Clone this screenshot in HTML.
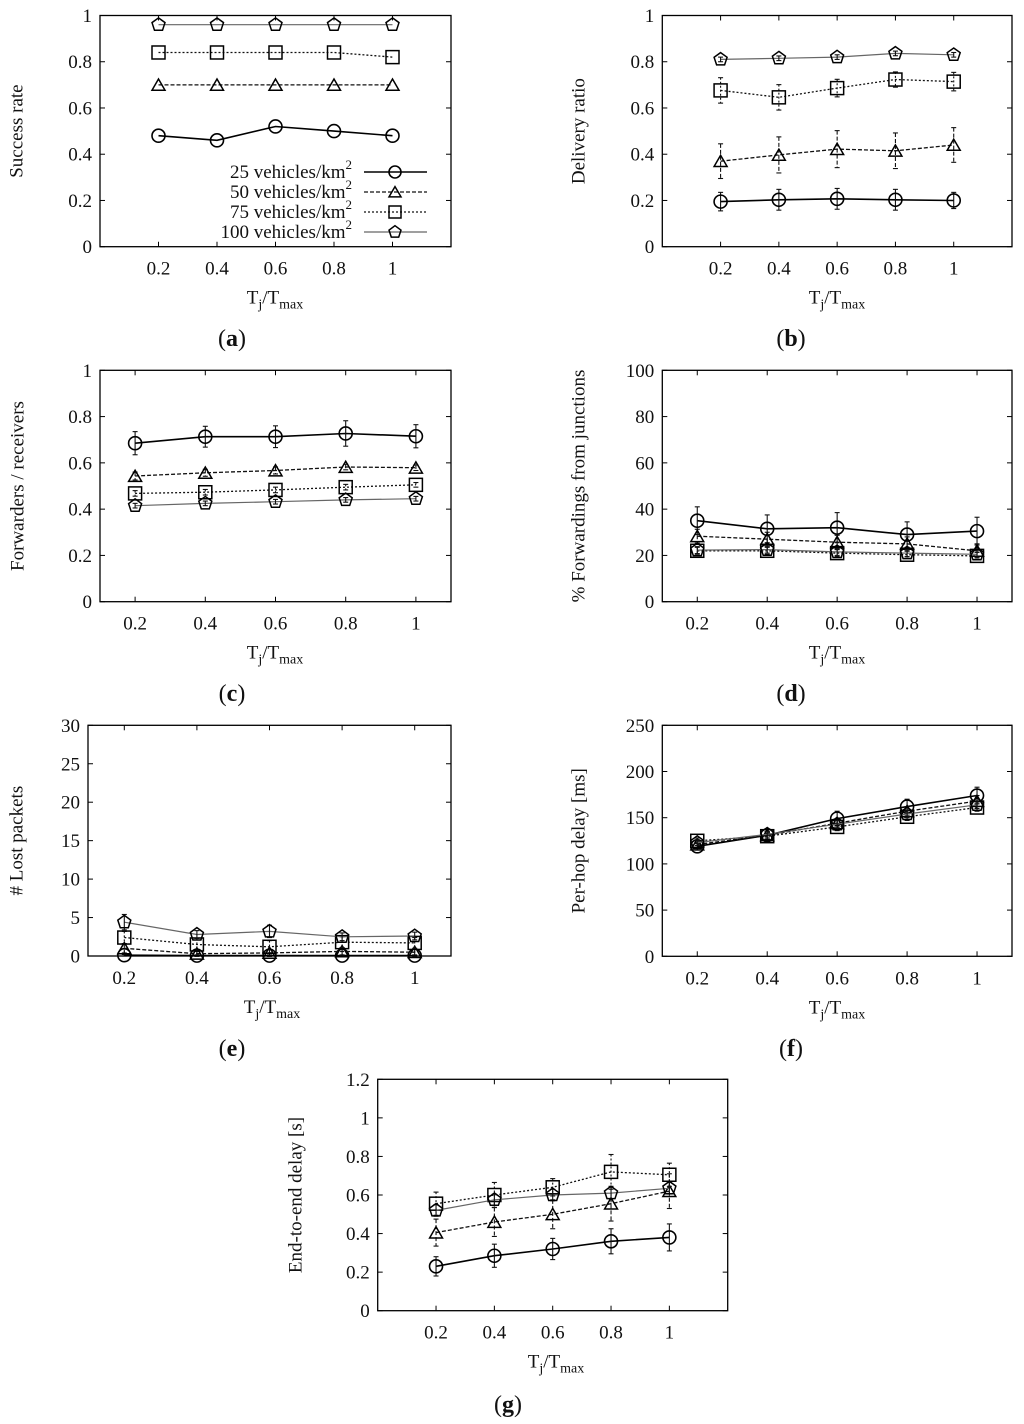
<!DOCTYPE html>
<html><head><meta charset="utf-8"><style>
html,body{margin:0;padding:0;background:#fff;}
svg{display:block;}
text{font-family:"Liberation Serif",serif;fill:#111;}
</style></head><body>
<svg id="fig" width="1024" height="1424" viewBox="0 0 1024 1424" xmlns="http://www.w3.org/2000/svg"></svg>
<script>
// x categories
const xCats = [0.2, 0.4, 0.6, 0.8, 1];
const xTickLabels = ["0.2","0.4","0.6","0.8","1"];
const seriesNames = ["25 vehicles/km","50 vehicles/km","75 vehicles/km","100 vehicles/km"];

// (a) success rate
const aC25 = [0.48,0.46,0.52,0.50,0.48];
const aC50 = [0.70,0.70,0.70,0.70,0.70];
const aC75 = [0.84,0.84,0.84,0.84,0.82];
const aC100 = [0.96,0.96,0.96,0.96,0.96];
// (b) delivery ratio
const bC25 = [0.195,0.203,0.207,0.203,0.200];
const bC50 = [0.37,0.397,0.422,0.415,0.44];
const bC75 = [0.676,0.646,0.686,0.723,0.714];
const bC100 = [0.810,0.815,0.820,0.836,0.830];
const bE25 = [0.04,0.045,0.045,0.045,0.035];
const bE50 = [0.075,0.078,0.08,0.077,0.075];
const bE75 = [0.055,0.055,0.038,0.033,0.04];
const bE100 = [0.01,0.01,0.01,0.01,0.01];
// (c) forwarders / receivers
const cC25 = [0.685,0.713,0.713,0.727,0.715];
const cC50 = [0.543,0.557,0.567,0.582,0.579];
const cC75 = [0.468,0.473,0.483,0.495,0.505];
const cC100 = [0.415,0.425,0.432,0.440,0.445];
const cE25 = [0.05,0.045,0.047,0.055,0.05];
const cE50 = [0.017,0.015,0.015,0.012,0.012];
const cE75 = [0.012,0.012,0.012,0.012,0.01];
const cE100 = [0.01,0.01,0.01,0.01,0.01];
// (d) % forwardings from junctions
const dC25 = [35,31.5,32,29,30.5];
const dC50 = [28.3,27,25.7,25,22];
const dC75 = [22,22,21,20.3,19.8];
const dC100 = [22.3,22.5,21.5,21,20.5];
const dE25 = [6,6,6.5,5.5,6];
const dE50 = [3,3,3,3,3];
const dE75 = [1.5,1.5,1.5,1.5,1.5];
const dE100 = [1.5,1.5,1.5,1.5,1.5];
// (e) # lost packets
const eC25 = [0.1,0.05,0.05,0.05,0.05];
const eC50 = [1.0,0.3,0.4,0.6,0.5];
const eC75 = [2.4,1.5,1.2,1.8,1.7];
const eC100 = [4.4,2.8,3.2,2.5,2.6];
const eE25 = [0.1,0.1,0.1,0.1,0.1];
const eE50 = [0.6,0.3,0.4,0.5,0.4];
const eE75 = [0.8,0.8,0.8,0.7,0.7];
const eE100 = [1.0,0.5,0.8,0.5,0.5];
// (f) per-hop delay
const fC25 = [119,131,149,162,174];
const fC50 = [121,131,144,157,168];
const fC75 = [125,130,140,151,161];
const fC100 = [123,132,143,154,164];
const fE25 = [4,4,8,8,9];
const fE50 = [4,4,5,5,6];
const fE75 = [3,3,4,4,4];
const fE100 = [3,3,4,4,4];
// (g) end-to-end delay
const gC25 = [0.23,0.285,0.32,0.36,0.38];
const gC50 = [0.405,0.46,0.50,0.555,0.62];
const gC75 = [0.555,0.60,0.64,0.72,0.705];
const gC100 = [0.52,0.575,0.60,0.61,0.635];
const gE25 = [0.05,0.06,0.055,0.065,0.07];
const gE50 = [0.07,0.075,0.075,0.09,0.09];
const gE75 = [0.06,0.065,0.045,0.09,0.06];
const gE100 = [0.03,0.03,0.03,0.03,0.03];

const NS = "http://www.w3.org/2000/svg";
const svg = document.getElementById('fig');
function mk(tag, attrs, parent){
  const e = document.createElementNS(NS, tag);
  for (const k in attrs) e.setAttribute(k, attrs[k]);
  (parent||svg).appendChild(e);
  return e;
}
const styles = [
  {stroke:"#000", dash:"", w:1.6, mk:"circle"},
  {stroke:"#111", dash:"4,2", w:1.3, mk:"triangle"},
  {stroke:"#111", dash:"2,2", w:1.3, mk:"square"},
  {stroke:"#666", dash:"", w:1.2, mk:"pentagon"}
];
function marker(g, type, cx, cy, r){
  let e;
  if (type==="circle") e = mk('circle',{cx:cx,cy:cy,r:r,fill:"none",stroke:"#000","stroke-width":1.6},g);
  else if (type==="square") e = mk('rect',{x:cx-r,y:cy-r,width:2*r,height:2*r,fill:"none",stroke:"#000","stroke-width":1.5},g);
  else {
    const n = type==="triangle"?3:5;
    const rr = type==="triangle"? r*1.15 : r*1.05;
    const oy = type==="triangle"? r*0.25 : 0;
    let pts=[];
    for(let i=0;i<n;i++){const a=-Math.PI/2+i*2*Math.PI/n;pts.push((cx+rr*Math.cos(a)).toFixed(1)+","+(cy+oy+rr*Math.sin(a)).toFixed(1));}
    e = mk('polygon',{points:pts.join(" "),fill:"none",stroke:"#000","stroke-width":1.5},g);
  }
  return e;
}
function drawPanel(p){
  const g = mk('g',{});
  
  
  const sx = v => p.l + (v - p.xmin)/(p.xmax - p.xmin)*(p.r - p.l);
  const sy = v => p.b - (v - p.ymin)/(p.ymax - p.ymin)*(p.b - p.t);
  // ticks
  p.yticks.forEach((v,i)=>{
    const y = sy(v);
    mk('line',{x1:p.l,y1:y,x2:p.l+5,y2:y,stroke:"#000","stroke-width":1},g);
    mk('line',{x1:p.r,y1:y,x2:p.r-5,y2:y,stroke:"#000","stroke-width":1},g);
    const t = mk('text',{x:p.l-8,y:y+6.5,"font-size":19,"text-anchor":"end"},g);
    t.textContent = p.ylabels[i];
    
    
  });
  xCats.forEach((v,i)=>{
    const x = sx(v);
    mk('line',{x1:x,y1:p.b,x2:x,y2:p.b-5,stroke:"#000","stroke-width":1},g);
    mk('line',{x1:x,y1:p.t,x2:x,y2:p.t+5,stroke:"#000","stroke-width":1},g);
    const t = mk('text',{x:x,y:p.b+28,"font-size":19,"text-anchor":"middle"},g);
    t.textContent = xTickLabels[i];
    
    
  });
  // series
  p.series.forEach((vals,si)=>{
    const st = styles[si];
    const sg = mk('g',{},g);
    
    
    const d = vals.map((v,i)=>(i?"L":"M")+sx(xCats[i]).toFixed(1)+","+sy(v).toFixed(1)).join(" ");
    const ln = mk('path',{d:d,fill:"none",stroke:st.stroke,"stroke-width":st.w,"stroke-dasharray":st.dash},sg);
    
    
    vals.forEach((v,i)=>{
      const x = sx(xCats[i]), y = sy(v);
      if (p.errs){
        const e = p.errs[si][i];
        const y1 = sy(v+e), y2 = sy(v-e);
        mk('line',{x1:x,y1:y1,x2:x,y2:y2,stroke:"#111","stroke-width":1.1,"stroke-dasharray":st.dash},sg);
        mk('line',{x1:x-2.5,y1:y1,x2:x+2.5,y2:y1,stroke:"#111","stroke-width":1.1},sg);
        mk('line',{x1:x-2.5,y1:y2,x2:x+2.5,y2:y2,stroke:"#111","stroke-width":1.1},sg);
      }
      const m = marker(sg, st.mk, x, y, 6.5);
      
      
    });
  });
  // frame
  const fr = mk('rect',{x:p.l,y:p.t,width:p.r-p.l,height:p.b-p.t,fill:"none",stroke:"#000","stroke-width":1.3},g);
  
  
  // y label
  const cy = (p.t+p.b)/2;
  const yl = mk('text',{x:p.ylx,y:cy,"font-size":19,"text-anchor":"middle",transform:"rotate(-90 "+p.ylx+" "+cy+")","dominant-baseline":"middle"},g);
  yl.textContent = p.ylabel;
  
  
  // x label
  const xl = mk('text',{x:p.xlx,y:p.b+57,"font-size":19,"text-anchor":"middle"},g);
  
  
  xl.innerHTML = 'T<tspan font-size="14" dy="5">j</tspan><tspan dy="-5">/T</tspan><tspan font-size="14" dy="5">max</tspan>';
  // letter
  const lt = mk('text',{x:p.lx,y:p.ly,"font-size":24,"text-anchor":"middle","font-weight":"bold"},g);
  lt.innerHTML = '<tspan font-weight="normal">(</tspan>'+p.id+'<tspan font-weight="normal">)</tspan>';
  
  
  return {g, sx, sy};
}
const unitTicks = [0,0.2,0.4,0.6,0.8,1];
const unitLabels = ["0","0.2","0.4","0.6","0.8","1"];
const panels = [
  {id:"a",l:100,r:451,t:15.5,b:246.7,xmin:0,xmax:1.2,ymin:0,ymax:1,yticks:unitTicks,ylabels:unitLabels,ylabel:"Success rate",ylx:18,xlx:275,lx:232,ly:346,series:[aC25,aC50,aC75,aC100],errs:null},
  {id:"b",l:662.3,r:1012,t:15.5,b:246.7,xmin:0,xmax:1.2,ymin:0,ymax:1,yticks:unitTicks,ylabels:unitLabels,ylabel:"Delivery ratio",ylx:580,xlx:837,lx:791,ly:346,series:[bC25,bC50,bC75,bC100],errs:[bE25,bE50,bE75,bE100]},
  {id:"c",l:100,r:451,t:370.3,b:601.7,xmin:0.1,xmax:1.1,ymin:0,ymax:1,yticks:unitTicks,ylabels:unitLabels,ylabel:"Forwarders / receivers",ylx:19,xlx:275,lx:232,ly:701,series:[cC25,cC50,cC75,cC100],errs:[cE25,cE50,cE75,cE100]},
  {id:"d",l:662.3,r:1012,t:370.3,b:601.7,xmin:0.1,xmax:1.1,ymin:0,ymax:100,yticks:[0,20,40,60,80,100],ylabels:["0","20","40","60","80","100"],ylabel:"% Forwardings from junctions",ylx:580,xlx:837,lx:791,ly:701,series:[dC25,dC50,dC75,dC100],errs:[dE25,dE50,dE75,dE100]},
  {id:"e",l:88,r:451,t:725.3,b:956,xmin:0.1,xmax:1.1,ymin:0,ymax:30,yticks:[0,5,10,15,20,25,30],ylabels:["0","5","10","15","20","25","30"],ylabel:"# Lost packets",ylx:18,xlx:272,lx:232,ly:1056,series:[eC25,eC50,eC75,eC100],errs:[eE25,eE50,eE75,eE100]},
  {id:"f",l:662.3,r:1012,t:725.3,b:956.3,xmin:0.1,xmax:1.1,ymin:0,ymax:250,yticks:[0,50,100,150,200,250],ylabels:["0","50","100","150","200","250"],ylabel:"Per-hop delay [ms]",ylx:580,xlx:837,lx:791,ly:1056,series:[fC25,fC50,fC75,fC100],errs:[fE25,fE50,fE75,fE100]},
  {id:"g",l:377.7,r:727.7,t:1079.3,b:1310.7,xmin:0,xmax:1.2,ymin:0,ymax:1.2,yticks:[0,0.2,0.4,0.6,0.8,1,1.2],ylabels:["0","0.2","0.4","0.6","0.8","1","1.2"],ylabel:"End-to-end delay [s]",ylx:297,xlx:556,lx:508,ly:1412,series:[gC25,gC50,gC75,gC100],errs:[gE25,gE50,gE75,gE100]}
];
panels.forEach(drawPanel);

// legend in panel (a)
const lg = mk('g',{});


const legY = [172,192,212,232];
seriesNames.forEach((nm,i)=>{
  const st = styles[i];
  const eg = mk('g',{},lg);
  
  
  const t = mk('text',{x:352,y:legY[i]+6,"font-size":19,"text-anchor":"end"},eg);
  t.innerHTML = nm+'<tspan font-size="13" dy="-9">2</tspan>';
  mk('line',{x1:364,y1:legY[i],x2:427,y2:legY[i],stroke:st.stroke,"stroke-width":st.w,"stroke-dasharray":st.dash},eg);
  marker(eg, st.mk, 395, legY[i], 6);
});
</script>
</body></html>
